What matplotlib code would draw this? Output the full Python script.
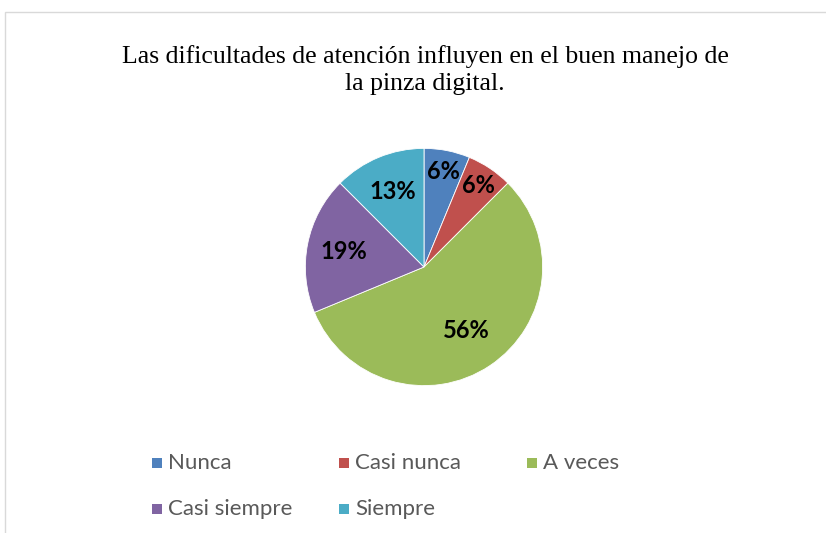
import matplotlib
matplotlib.use("Agg")
import matplotlib.pyplot as plt
from matplotlib.patches import Rectangle
import numpy as np

categories = ["Nunca", "Casi nunca", "A veces", "Casi siempre", "Siempre"]
values = [6.25, 6.25, 56.25, 18.75, 12.5]
colors = ["#4F81BD", "#C0504D", "#9BBB59", "#8064A2", "#4BACC6"]
title = "Las dificultades de atención influyen en el buen manejo de\nla pinza digital."

W, H = 826, 533
fig = plt.figure(figsize=(W / 100, H / 100), dpi=100)

# chart frame
fig.patches.append(Rectangle((5 / W, -0.05), 1.0, (H - 12) / H + 0.05,
                             transform=fig.transFigure, fill=False,
                             edgecolor="#D9D9D9", linewidth=1.0))

fig.text(425 / W, 1 - 70 / H, title, ha="center", va="center",
         fontsize=18.5, family="Liberation Serif", color="#000000",
         linespacing=1.25)

cx, cy, R = 424, 267, 121
ax = fig.add_axes([(cx - R) / W, (H - cy - R) / H, 2 * R / W, 2 * R / H])
wedges, _ = ax.pie(values, colors=colors, startangle=90, counterclock=False,
                   radius=1.0, wedgeprops=dict(edgecolor="white", linewidth=0.6))
ax.set_xlim(-1.02, 1.02)
ax.set_ylim(-1.02, 1.02)
ax.set_axis_off()

dists = [0.82, 0.83, 0.64, 0.69, 0.69]
for w, v, d in zip(wedges, values, dists):
    ang = np.deg2rad((w.theta1 + w.theta2) / 2)
    ax.text(d * np.cos(ang), d * np.sin(ang), f"{int(v + 0.5)}%",
            ha="center", va="center", fontsize=17, fontweight="bold",
            family="Lato", color="#000000")

# legend (manual grid, 3 per row)
col_x = [152, 339, 527]
row_y = [463, 509]
sq = 10
for i, (lab, c) in enumerate(zip(categories, colors)):
    x = col_x[i % 3]
    y = row_y[i // 3]
    fig.patches.append(Rectangle((x / W, (H - y - sq / 2) / H), sq / W, sq / H,
                                 transform=fig.transFigure, facecolor=c,
                                 edgecolor="none"))
    fig.text((x + sq + 6) / W, (H - y) / H, lab, ha="left", va="center",
             fontsize=16, family="Lato", color="#595959")

fig.savefig("out.png", dpi=100)
